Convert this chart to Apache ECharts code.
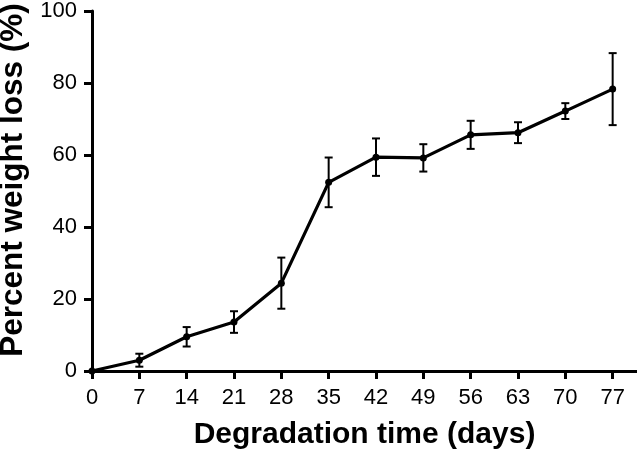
<!DOCTYPE html>
<html><head><meta charset="utf-8">
<script src="https://cdn.jsdelivr.net/npm/echarts@6/dist/echarts.min.js"></script>
<style>html,body{margin:0;padding:0;background:#fff}#c{width:637px;height:452px}</style>
</head><body><div id="c"></div>
<script>
const days = [0, 7, 14, 21, 28, 35, 42, 49, 56, 63, 70, 77];
const weightLoss = [0, 3.0, 9.5, 13.6, 24.4, 52.4, 59.4, 59.2, 65.6, 66.2, 72.2, 78.3];
const errors = [0, 1.8, 2.7, 3.0, 7.1, 6.9, 5.2, 3.8, 3.9, 2.9, 2.2, 10.0];
const xTicks = [0, 7, 14, 21, 28, 35, 42, 49, 56, 63, 70, 77];
const yTicks = [0, 20, 40, 60, 80, 100];

const lineData = days.map((d, i) => [d, weightLoss[i]]);
const errData = days.map((d, i) => [d, weightLoss[i] - errors[i], weightLoss[i] + errors[i]]);

const chart = echarts.init(document.getElementById('c'));
const font = 'Liberation Sans, Arial, sans-serif';
chart.setOption({
  animation: false,
  grid: { left: 92, right: 0, top: 11, bottom: 81, containLabel: false, outerBoundsMode: 'none' },
  xAxis: {
    type: 'value', min: 0, max: 80.6, interval: 7,
    name: 'Degradation time (days)', nameLocation: 'middle', nameGap: 49,
    nameTextStyle: { fontFamily: font, fontWeight: 'bold', fontSize: 30, color: '#000' },
    axisLine: { lineStyle: { color: '#000', width: 3 } },
    axisTick: { show: true, length: 8, inside: false, lineStyle: { color: '#000', width: 3 }, customValues: xTicks },
    axisLabel: { fontFamily: font, fontSize: 22, color: '#000', margin: 16, customValues: xTicks },
    splitLine: { show: false }
  },
  yAxis: {
    type: 'value', min: 0, max: 100, interval: 20,
    name: 'Percent weight loss (%)', nameLocation: 'middle', nameGap: 62, nameRotate: 90,
    nameTextStyle: { fontFamily: font, fontWeight: 'bold', fontSize: 31.5, color: '#000', padding: [0, 0, 0, 22] },
    axisLine: { show: true, lineStyle: { color: '#000', width: 3 } },
    axisTick: { show: true, length: 8, lineStyle: { color: '#000', width: 3 }, customValues: yTicks },
    axisLabel: { fontFamily: font, fontSize: 22, color: '#000', margin: 15, customValues: yTicks },
    splitLine: { show: false }
  },
  series: [
    {
      type: 'line', data: lineData, symbol: 'circle', symbolSize: 7,
      lineStyle: { color: '#000', width: 3.2 }, itemStyle: { color: '#000' }, z: 3
    },
    {
      type: 'custom', data: errData, z: 2,
      renderItem: function (params, api) {
        const x = api.value(0);
        const lo = api.coord([x, api.value(1)]);
        const hi = api.coord([x, api.value(2)]);
        const w = 4;
        const st = { stroke: '#000', lineWidth: 2 };
        return {
          type: 'group', children: [
            { type: 'line', shape: { x1: hi[0], y1: hi[1], x2: lo[0], y2: lo[1] }, style: st },
            { type: 'line', shape: { x1: hi[0] - w, y1: hi[1], x2: hi[0] + w, y2: hi[1] }, style: st },
            { type: 'line', shape: { x1: lo[0] - w, y1: lo[1], x2: lo[0] + w, y2: lo[1] }, style: st }
          ]
        };
      }
    }
  ]
});
</script></body></html>
